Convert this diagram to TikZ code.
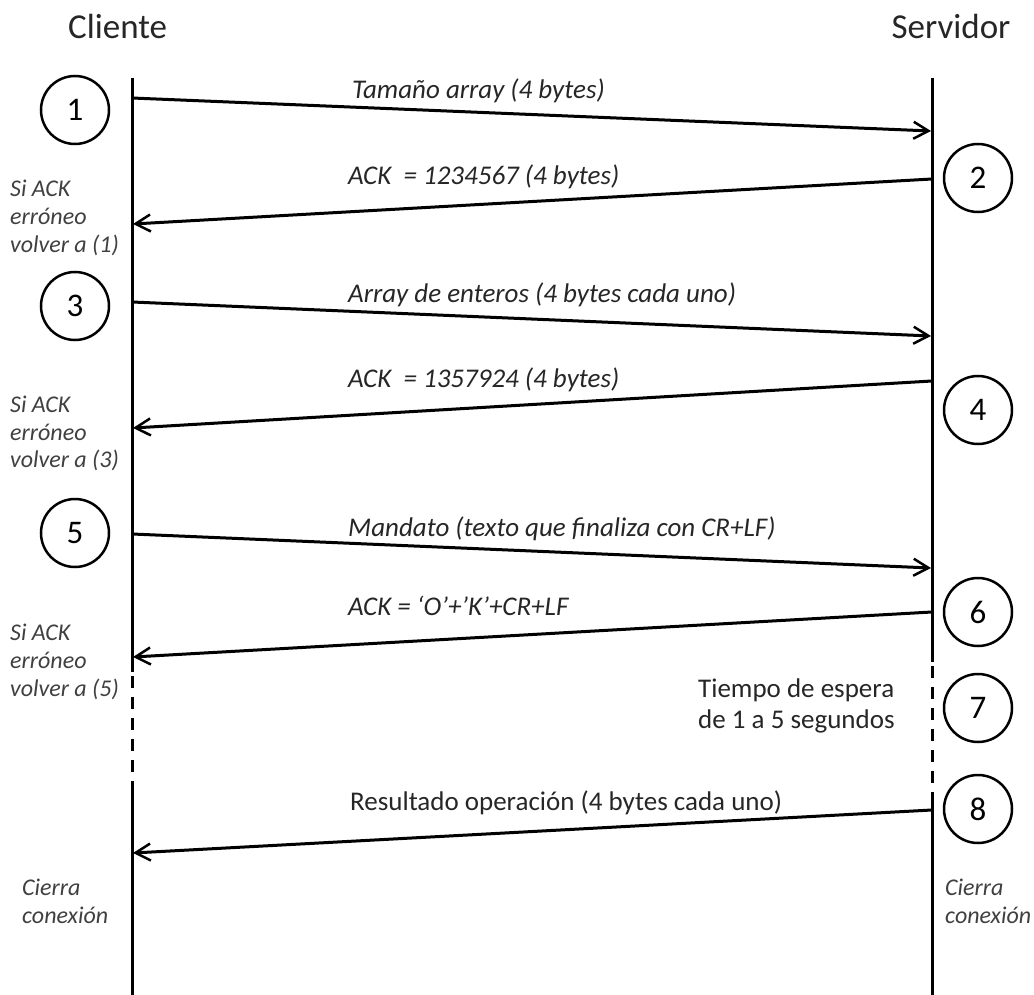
\documentclass[tikz,border=0pt]{standalone}
\usepackage{fontspec}
\setmainfont{Carlito}
\usetikzlibrary{arrows.meta}
\begin{document}
\begin{tikzpicture}[x=1pt,y=-1pt,
  life/.style={line width=3pt},
  lifedash/.style={line width=3pt,dash pattern=on 12pt off 9pt},
  msg/.style={line width=3pt,-{Straight Barb[length=15pt,width=17pt,line width=2.5pt]}},
  num/.style={circle,draw,line width=2.5pt,minimum size=68pt,inner sep=0pt,font=\fontsize{33}{35}\selectfont},
  lbl/.style={anchor=base west,inner sep=0pt,text=black!85,font=\fontsize{27}{30}\selectfont\itshape},
  lblu/.style={anchor=base west,inner sep=0pt,text=black!85,font=\fontsize{27}{30}\selectfont},
  note/.style={anchor=base west,inner sep=0pt,text=black!75,font=\fontsize{24}{28}\selectfont\itshape},
  head/.style={inner sep=0pt,text=black!85,font=\fontsize{35}{38}\selectfont}]
\useasboundingbox (0,0) rectangle (1034,995);
% lifeline coordinates
\coordinate (Ctop) at (132,78);
\coordinate (Cd1) at (132,672);
\coordinate (Cd2) at (132,787);
\coordinate (Cbot) at (132,995);
\coordinate (Stop) at (932,78);
\coordinate (Sd1) at (932,662);
\coordinate (Sd2) at (932,798);
\coordinate (Sbot) at (932,995);
\draw[life] (Ctop) -- (Cd1);
\draw[lifedash] (Cd1) ++(0,4) -- (Cd2);
\draw[life] (Cd2) -- (Cbot);
\draw[life] (Stop) -- (Sd1);
\draw[lifedash] (Sd1) ++(0,4) -- (Sd2);
\draw[life] (Sd2) -- (Sbot);
% headers
\node[head,anchor=base west] (cli) at (68,39) {Cliente};
\node[head,anchor=base] (srv) at (951,39) {Servidor};
% message endpoints
\coordinate (m1a) at (132,98);  \coordinate (m1b) at (931,131);
\coordinate (m2a) at (932,179); \coordinate (m2b) at (133,224);
\coordinate (m3a) at (132,302); \coordinate (m3b) at (931,336);
\coordinate (m4a) at (932,381); \coordinate (m4b) at (133,428);
\coordinate (m5a) at (132,534); \coordinate (m5b) at (931,568);
\coordinate (m6a) at (932,612); \coordinate (m6b) at (133,657);
\coordinate (m8a) at (932,810); \coordinate (m8b) at (133,853);
\draw[msg] (m1a) -- (m1b);
\draw[msg] (m2a) -- (m2b);
\draw[msg] (m3a) -- (m3b);
\draw[msg] (m4a) -- (m4b);
\draw[msg] (m5a) -- (m5b);
\draw[msg] (m6a) -- (m6b);
\draw[msg] (m8a) -- (m8b);
% message labels
\node[lbl] (l1) at (352,99) {Tamaño array (4 bytes)};
\node[lbl] (l2) at (348,185) {ACK \ = 1234567 (4 bytes)};
\node[lbl] (l3) at (348,302) {Array de enteros (4 bytes cada uno)};
\node[lbl] (l4) at (348,387) {ACK \ = 1357924 (4 bytes)};
\node[lbl] (l5) at (348,536) {Mandato (texto que finaliza con CR+LF)};
\node[lbl] (l6) at (348,615) {ACK = ‘O’+’K’+CR+LF};
\node[lblu] (l8) at (350,810) {Resultado operación (4 bytes cada uno)};
\node[lblu] (t7a) at (698,697) {Tiempo de espera};
\node[lblu] (t7b) at (698,728) {de 1 a 5 segundos};
% numbered circles
\node[num] (n1) at (75,110) {1};
\node[num] (n2) at (978,178) {2};
\node[num] (n3) at (75,306) {3};
\node[num] (n4) at (978,410) {4};
\node[num] (n5) at (75,533) {5};
\node[num] (n6) at (978,612) {6};
\node[num] (n7) at (978,708) {7};
\node[num] (n8) at (978,809) {8};
% notes
\node[note] (a1) at (10,197) {Si ACK};
\node[note] (a2) at (10,225) {erróneo};
\node[note] (a3) at (10,253) {volver a (1)};
\node[note] (b1) at (10,412) {Si ACK};
\node[note] (b2) at (10,440) {erróneo};
\node[note] (b3) at (10,467) {volver a (3)};
\node[note] (c1) at (10,640) {Si ACK};
\node[note] (c2) at (10,668) {erróneo};
\node[note] (c3) at (10,696) {volver a (5)};
\node[note] (d1) at (22,895) {Cierra};
\node[note] (d2) at (22,923) {conexión};
\node[note] (e1) at (945,895) {Cierra};
\node[note] (e2) at (945,923) {conexión};
\end{tikzpicture}
\end{document}
